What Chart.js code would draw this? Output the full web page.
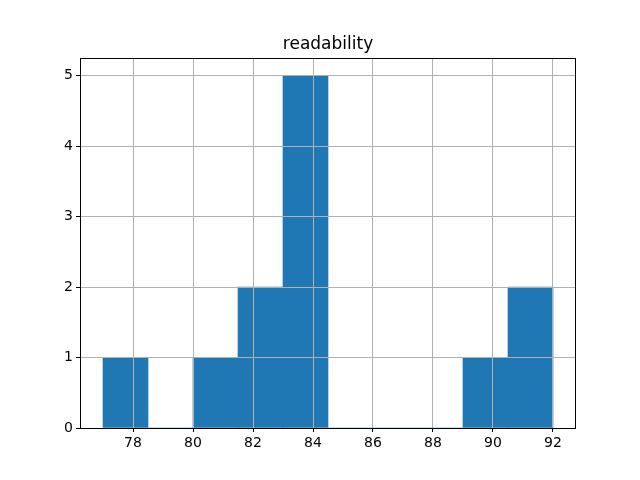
<!DOCTYPE html>
<html>
<head>
<meta charset="utf-8">
<script src="https://cdn.jsdelivr.net/npm/chart.js@4/dist/chart.umd.min.js"></script>
<style>
  html, body { margin: 0; padding: 0; background: #fff; }
  #wrap { width: 640px; height: 480px; }
</style>
</head>
<body>
<div id="wrap"><canvas id="hist" width="640" height="480"></canvas></div>
<script>
// histogram bins (10 bins of width 1.5 from 77 to 92)
var binCenters = [77.75, 79.25, 80.75, 82.25, 83.75, 85.25, 86.75, 88.25, 89.75, 91.25];
var binCounts = [1, 0, 1, 2, 5, 0, 0, 0, 1, 2];
var xTicks = [78, 80, 82, 84, 86, 88, 90, 92];
var yTicks = [0, 1, 2, 3, 4, 5];
var title = 'readability';

var font = { family: 'DejaVu Sans', size: 14 };

// black frame around the axes + title above it
var frame = {
    id: 'frame',
    afterDraw: function(chart){
        var ctx = chart.ctx, a = chart.chartArea;
        ctx.save();
        ctx.strokeStyle = '#000';
        ctx.lineWidth = 1;
        ctx.strokeRect(Math.round(a.left) + 0.5, Math.round(a.top) + 0.5,
            Math.round(a.right - a.left) - 1, Math.round(a.bottom - a.top));
        ctx.fillStyle = '#000';
        ctx.font = '17px "DejaVu Sans"';
        ctx.textAlign = 'center';
        ctx.textBaseline = 'alphabetic';
        ctx.fillText(title, (a.left + a.right) / 2, a.top - 9);
        ctx.restore();
    }
};

var data = binCenters.map(function(x, i){ return { x: x, y: binCounts[i] }; });

new Chart(document.getElementById('hist'), {
    type: 'bar',
    data: {
        datasets: [{
            data: data,
            backgroundColor: '#1f77b4',
            borderWidth: 0,
            barPercentage: 1,
            categoryPercentage: 1
        }]
    },
    options: {
        responsive: false,
        animation: false,
        layout: { padding: { left: 0, right: 64, top: 58, bottom: 0 } },
        plugins: { legend: { display: false }, tooltip: { enabled: false } },
        scales: {
            x: {
                type: 'linear',
                offset: false,
                min: 76.233,
                max: 92.767,
                afterBuildTicks: function(axis){
                    axis.ticks = xTicks.map(function(v){ return { value: v }; });
                },
                afterFit: function(axis){ axis.height = 52; },
                grid: { offset: false, color: '#b0b0b0', lineWidth: 1, z: 1, drawTicks: true, tickLength: 4, tickColor: '#000' },
                border: { display: false },
                ticks: { color: '#000', font: font, padding: 3, maxRotation: 0 }
            },
            y: {
                min: 0,
                max: 5.25,
                afterBuildTicks: function(axis){
                    axis.ticks = yTicks.map(function(v){ return { value: v }; });
                },
                afterFit: function(axis){ axis.width = 80; },
                grid: { color: '#b0b0b0', lineWidth: 1, z: 1, drawTicks: true, tickLength: 4, tickColor: '#000' },
                border: { display: false },
                ticks: { color: '#000', font: font, padding: 3 }
            }
        }
    },
    plugins: [frame]
});
</script>
</body>
</html>
